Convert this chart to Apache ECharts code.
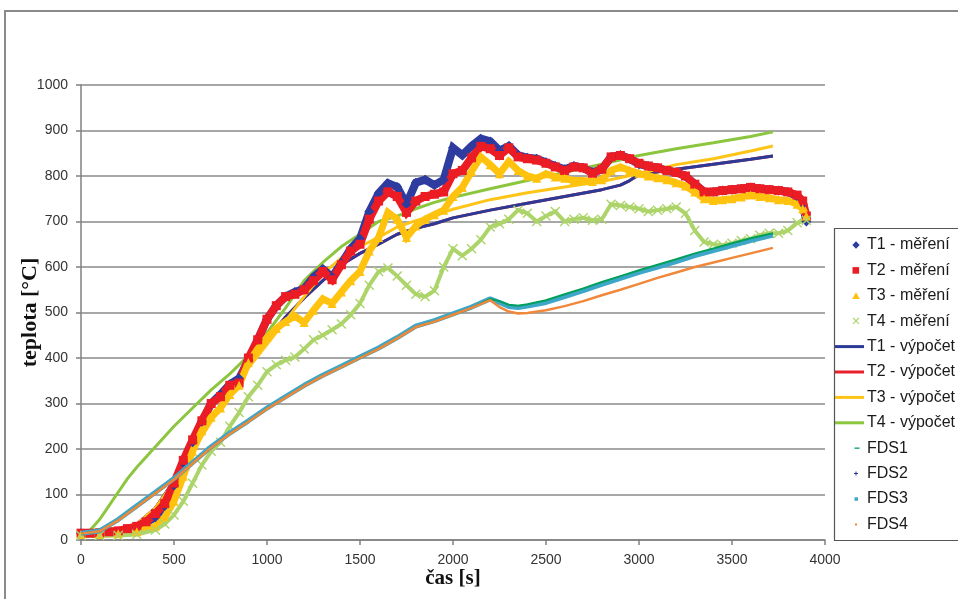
<!DOCTYPE html>
<html><head><meta charset="utf-8">
<script src="https://cdn.jsdelivr.net/npm/echarts@6/dist/echarts.min.js"></script>
<style>html,body{margin:0;padding:0;background:#fff}#c{width:958px;height:599px}</style>
</head><body><div id="c"></div><script>
// ---- data: [time s, temperature °C] ----
const T1_mereni = [[0,15],[100,16],[200,18],[300,28],[400,50],[450,75],[500,120],[550,170],[600,215],[650,260],[700,300],[750,320],[800,342],[850,355],[900,395],[950,440],[1000,485],[1050,515],[1100,535],[1150,545],[1200,552],[1250,578],[1300,595],[1350,578],[1400,608],[1450,640],[1500,662],[1550,722],[1600,762],[1650,784],[1700,776],[1750,738],[1800,785],[1850,792],[1900,780],[1950,792],[2000,862],[2050,846],[2100,866],[2150,882],[2200,876],[2250,856],[2300,866],[2350,846],[2400,840],[2450,838],[2500,830],[2550,822],[2600,815],[2650,822],[2700,818],[2750,808],[2800,815],[2850,842],[2900,846],[2950,838],[3000,826],[3050,822],[3100,818],[3150,812],[3200,808],[3250,800],[3300,782],[3350,765],[3400,765],[3450,768],[3500,770],[3550,772],[3600,775],[3650,772],[3700,770],[3750,768],[3800,765],[3850,755],[3880,738],[3900,700]];
const T2_mereni = [[0,15],[50,15],[100,16],[150,18],[200,20],[250,25],[300,30],[350,40],[400,58],[450,80],[500,125],[550,175],[600,220],[650,262],[700,300],[750,315],[800,340],[850,345],[900,400],[950,440],[1000,485],[1050,515],[1100,535],[1150,540],[1200,550],[1250,570],[1300,590],[1350,572],[1400,605],[1450,635],[1500,650],[1550,705],[1600,745],[1650,765],[1700,755],[1750,720],[1800,745],[1850,755],[1900,760],[1950,765],[2000,805],[2050,812],[2100,840],[2150,865],[2200,860],[2250,845],[2300,862],[2350,842],[2400,838],[2450,835],[2500,828],[2550,820],[2600,812],[2650,820],[2700,818],[2750,806],[2800,815],[2850,842],[2900,845],[2950,838],[3000,828],[3050,822],[3100,818],[3150,812],[3200,808],[3250,800],[3300,782],[3350,765],[3400,765],[3450,768],[3500,770],[3550,772],[3600,775],[3650,772],[3700,770],[3750,768],[3800,765],[3850,758],[3880,745],[3900,712]];
const T3_mereni = [[0,12],[100,12],[200,14],[300,18],[400,30],[450,50],[500,85],[550,140],[600,195],[650,240],[700,270],[750,290],[800,320],[850,340],[900,390],[950,420],[1000,445],[1050,465],[1100,480],[1150,492],[1200,478],[1250,505],[1300,530],[1350,520],[1400,545],[1450,570],[1500,590],[1550,635],[1600,665],[1650,720],[1700,705],[1750,665],[1800,690],[1850,705],[1900,715],[1950,725],[2000,755],[2050,775],[2100,810],[2150,842],[2200,825],[2250,805],[2300,832],[2350,812],[2400,800],[2450,795],[2500,805],[2550,798],[2600,795],[2650,790],[2700,790],[2750,788],[2800,792],[2850,812],[2900,820],[2950,812],[3000,806],[3050,800],[3100,796],[3150,792],[3200,785],[3250,778],[3300,765],[3350,750],[3400,746],[3450,748],[3500,750],[3550,754],[3600,758],[3650,755],[3700,752],[3750,748],[3800,746],[3850,738],[3880,728],[3900,712]];
const T4_mereni = [[0,10],[100,10],[200,10],[300,12],[400,22],[450,35],[500,55],[550,85],[600,125],[650,165],[700,195],[750,215],[800,250],[850,280],[900,315],[950,340],[1000,370],[1050,385],[1100,395],[1150,402],[1200,420],[1250,440],[1300,450],[1350,462],[1400,475],[1450,495],[1500,520],[1550,560],[1600,590],[1650,598],[1700,580],[1750,560],[1800,540],[1850,535],[1900,548],[1950,600],[2000,640],[2050,625],[2100,640],[2150,660],[2200,688],[2250,695],[2300,705],[2350,725],[2400,718],[2450,700],[2500,712],[2550,722],[2600,700],[2650,705],[2700,708],[2750,703],[2800,705],[2850,738],[2900,735],[2950,732],[3000,728],[3050,722],[3100,725],[3150,728],[3200,732],[3250,718],[3300,680],[3350,655],[3400,650],[3450,648],[3500,652],[3550,658],[3600,662],[3650,670],[3700,674],[3750,674],[3800,680],[3850,697],[3900,703]];
const T1_vypocet = [[0,15],[100,16],[200,20],[300,35],[400,70],[500,130],[600,200],[700,265],[800,330],[900,385],[1000,440],[1100,490],[1200,532],[1300,570],[1400,605],[1500,630],[1600,650],[1700,672],[1800,685],[1900,695],[2000,708],[2200,725],[2400,740],[2600,755],[2800,770],[2900,780],[2950,790],[3000,803],[3200,815],[3400,826],[3600,837],[3720,844]];
const T2_vypocet = [[0,15],[100,16],[200,20],[300,35],[400,70],[500,130],[600,200],[700,265],[800,330],[900,385],[1000,440],[1100,490],[1200,532],[1300,570],[1400,605],[1500,630],[1600,650],[1700,672],[1800,685],[1900,695],[2000,708],[2200,725],[2400,740],[2600,755],[2800,770],[2900,780],[2950,790],[3000,803],[3200,815],[3400,826],[3600,837],[3720,844]];
const T3_vypocet = [[0,15],[100,16],[200,20],[300,35],[400,70],[500,128],[600,195],[700,260],[800,322],[900,378],[1000,430],[1100,482],[1200,535],[1300,585],[1400,620],[1500,645],[1600,665],[1700,688],[1800,702],[1900,714],[2000,727],[2200,748],[2400,763],[2600,776],[2800,788],[3000,805],[3200,825],[3400,838],[3600,855],[3720,866]];
const T4_vypocet = [[0,15],[50,22],[100,45],[150,75],[200,105],[250,135],[300,160],[400,205],[500,250],[600,290],[700,330],[800,365],[900,405],[1000,455],[1100,510],[1200,570],[1300,610],[1400,645],[1500,672],[1600,700],[1700,712],[1800,728],[1900,742],[2000,753],[2200,772],[2400,790],[2600,808],[2800,826],[3000,845],[3200,860],[3400,873],[3600,887],[3720,897]];
const FDS1 = [[0,14],[100,19],[200,43],[300,73],[400,103],[500,133],[600,168],[700,203],[800,233],[900,260],[1000,288],[1100,313],[1200,338],[1300,360],[1400,380],[1500,400],[1600,420],[1700,443],[1800,468],[1900,480],[2000,495],[2100,510],[2200,530],[2250,525],[2300,517],[2350,515],[2400,518],[2500,527],[2600,540],[2700,553],[2800,567],[2900,580],[3000,593],[3100,605],[3200,617],[3300,630],[3400,641],[3500,652],[3600,663],[3720,674]];
const FDS2 = [[0,15],[100,20],[200,45],[300,75],[400,105],[500,135],[600,170],[700,205],[800,235],[900,262],[1000,290],[1100,315],[1200,340],[1300,362],[1400,382],[1500,402],[1600,422],[1700,445],[1800,470],[1900,482],[2000,497],[2100,512],[2200,530],[2250,522],[2300,513],[2350,511],[2400,514],[2500,522],[2600,535],[2700,548],[2800,562],[2900,575],[3000,588],[3100,600],[3200,612],[3300,625],[3400,636],[3500,647],[3600,658],[3720,670]];
const FDS3 = [[0,15],[100,20],[200,45],[300,75],[400,105],[500,135],[600,170],[700,205],[800,235],[900,262],[1000,290],[1100,315],[1200,340],[1300,362],[1400,382],[1500,402],[1600,422],[1700,445],[1800,470],[1900,482],[2000,497],[2100,512],[2200,530],[2250,522],[2300,513],[2350,511],[2400,514],[2500,522],[2600,535],[2700,548],[2800,562],[2900,575],[3000,588],[3100,600],[3200,612],[3300,625],[3400,636],[3500,647],[3600,658],[3720,670]];
const FDS4 = [[0,14],[100,19],[200,43],[300,73],[400,103],[500,133],[600,168],[700,203],[800,233],[900,260],[1000,288],[1100,313],[1200,338],[1300,360],[1400,380],[1500,400],[1600,420],[1700,443],[1800,468],[1900,480],[2000,495],[2100,510],[2200,527],[2250,512],[2300,502],[2350,498],[2400,499],[2500,505],[2600,514],[2700,525],[2800,538],[2900,550],[3000,563],[3100,576],[3200,588],[3300,600],[3400,610],[3500,620],[3600,630],[3720,642]];

const seriesNames = ['T1 - měření','T2 - měření','T3 - měření','T4 - měření','T1 - výpočet','T2 - výpočet','T3 - výpočet','T4 - výpočet','FDS1','FDS2','FDS3','FDS4'];
const xAxisRange = {min:0, max:4000, step:500};
const yAxisRange = {min:0, max:1000, step:100};

// ---- styling ----
const B = 'M0,0 M30,14 ';
const icons = {
  diamond: B + 'M22,3.3 L25.7,7 L22,10.7 L18.3,7Z',
  square: B + 'M18.5,3.7 L25.1,3.7 L25.1,10.3 L18.5,10.3Z',
  triangle: B + 'M22,3.4 L25.8,10.2 L18.2,10.2Z',
  cross: B + 'M18.6,4.1 L19.4,3.3 L22,5.9 L24.6,3.3 L25.4,4.1 L22.8,6.7 L25.4,9.3 L24.6,10.1 L22,7.5 L19.4,10.1 L18.6,9.3 L21.2,6.7Z',
  line: B + 'M0,5.4 L32,5.4 L32,8.6 L0,8.6Z',
  dash: B + 'M20.5,6.3 L25.5,6.3 L25.5,7.6 L20.5,7.6Z',
  plus: B + 'M21.5,5 L22.5,5 L22.5,6.5 L24,6.5 L24,7.5 L22.5,7.5 L22.5,9 L21.5,9 L21.5,7.5 L20,7.5 L20,6.5 L21.5,6.5Z',
  smallsq: B + 'M20.5,5.3 L24,5.3 L24,8.8 L20.5,8.8Z',
  dot: B + 'M21,6 L23,6 L23,8 L21,8Z'
};
const xMarker = 'path://M0,1 L1,0 L5,4 L9,0 L10,1 L6,5 L10,9 L9,10 L5,6 L1,10 L0,9 L4,5Z';

function lineS(name, data, color, width, z) {
  return {
    name, type:'line', data, color, z, showSymbol:false, silent:true,
    lineStyle:{color, width, join:'bevel'}, animation:false
  };
}
function markS(name, data, color, width, symbol, size, z) {
  return {
    name, type:'line', data, color, z, symbol, symbolSize:size, showSymbol:true, showAllSymbol:true,
    lineStyle:{color, width, join:'miter', miterLimit:2}, itemStyle:{color, borderWidth:0}, animation:false, silent:true
  };
}

const series = [
  lineS(seriesNames[5], T2_vypocet, '#e8202a', 3, 2),
  lineS(seriesNames[4], T1_vypocet, '#2b3a96', 3, 2),
  lineS(seriesNames[6], T3_vypocet, '#fec418', 3, 2),
  lineS(seriesNames[7], T4_vypocet, '#8cc63e', 3, 2),
  markS(seriesNames[0], T1_mereni, '#2e3ca0', 8, 'diamond', 10, 3),
  markS(seriesNames[1], T2_mereni, '#ec1c24', 8, 'rect', 9, 3),
  markS(seriesNames[2], T3_mereni, '#ffc20e', 7, 'triangle', 9, 3),
  markS(seriesNames[3], T4_mereni, '#acd46a', 4, xMarker, 10, 3),
  lineS(seriesNames[9], FDS2, '#2e3192', 2, 4),
  lineS(seriesNames[10], FDS3, '#3ea7c9', 5, 4),
  lineS(seriesNames[8], FDS1, '#00a05a', 2, 4),
  lineS(seriesNames[11], FDS4, '#f0883c', 2.5, 4)
];

const legendIcons = ['diamond','square','triangle','cross','line','line','line','line','dash','plus','smallsq','dot'];

const chart = echarts.init(document.getElementById('c'), null, {renderer:'canvas'});
chart.setOption({
  animation:false,
  backgroundColor:'#fff',
  grid:{left:81, right:133, top:85, bottom:59, containLabel:false, outerBoundsMode:'none'},
  xAxis:{
    type:'value', min:xAxisRange.min, max:xAxisRange.max, interval:xAxisRange.step,
    name:'čas [s]', nameLocation:'middle', nameGap:28, nameMoveOverlap:false,
    nameTextStyle:{fontFamily:'Liberation Serif', fontWeight:'bold', fontSize:21, color:'#111'},
    axisLine:{show:true, onZero:false, lineStyle:{color:'#808080', width:1.5}},
    axisTick:{show:true, length:5, inside:false, lineStyle:{color:'#808080', width:1.5}},
    axisLabel:{fontFamily:'Liberation Sans', fontSize:14, color:'#333', margin:13, formatter:v=>String(v)},
    splitLine:{show:false}
  },
  yAxis:{
    type:'value', min:yAxisRange.min, max:yAxisRange.max, interval:yAxisRange.step,
    name:'teplota [°C]', nameLocation:'middle', nameGap:40, nameMoveOverlap:false,
    nameTextStyle:{fontFamily:'Liberation Serif', fontWeight:'bold', fontSize:22, color:'#111'},
    axisLine:{show:true, lineStyle:{color:'#808080', width:1.5}},
    axisTick:{show:true, length:5, inside:false, lineStyle:{color:'#808080', width:1.5}},
    axisLabel:{fontFamily:'Liberation Sans', fontSize:14, color:'#333', margin:13, formatter:v=>String(v)},
    splitLine:{show:true, lineStyle:{color:'#8a8a8a', width:1.5}}
  },
  legend:{
    orient:'vertical', left:834, top:237, itemWidth:30, itemHeight:14, itemGap:9.4, padding:0,
    selectedMode:false,
    textStyle:{fontFamily:'Liberation Sans', fontSize:16, color:'#1a1a1a', padding:[0,0,0,-2]},
    itemStyle:{borderWidth:0},
    data: seriesNames.map((n,i)=>({name:n, icon:'path://' + icons[legendIcons[i]]}))
  },
  graphic:[
    {type:'rect', silent:true, z:-1, shape:{x:5, y:11, width:1000, height:700}, style:{fill:'none', stroke:'#8a8a8a', lineWidth:2}},
    {type:'rect', silent:true, z:10, shape:{x:834.5, y:228.5, width:200, height:312}, style:{fill:'none', stroke:'#555', lineWidth:1.2}}
  ],
  series
});
</script></body></html>
